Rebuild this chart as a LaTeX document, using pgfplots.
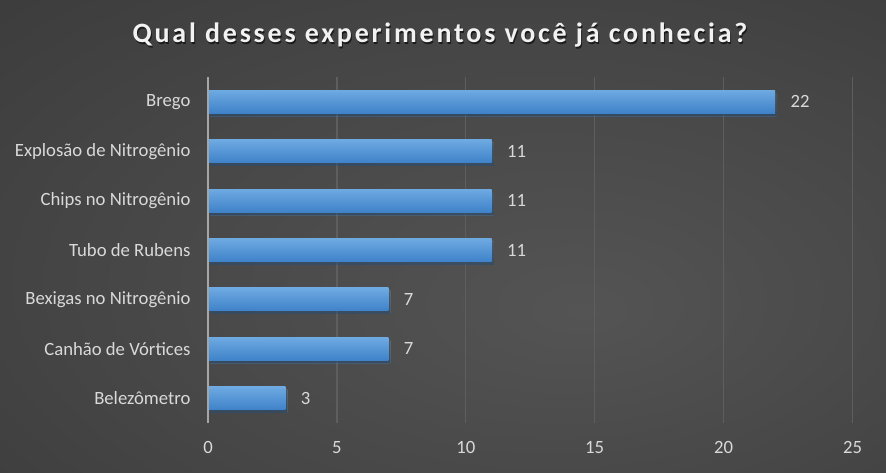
\documentclass[border=0pt]{standalone}
\usepackage{fontspec}
\setmainfont{Carlito}
\newfontfamily\titlefont[LetterSpace=10]{Carlito}
\usepackage{pgfplots}
\pgfplotsset{compat=1.18}
\definecolor{bgin}{HTML}{545454}
\definecolor{bgmid}{HTML}{464646}
\definecolor{bgout}{HTML}{2A2A2A}
\definecolor{lbl}{HTML}{D9D9D9}
\definecolor{grid}{HTML}{5E5E5E}
\definecolor{axl}{HTML}{A6A6A6}
\definecolor{bartop}{HTML}{6EAAE2}
\definecolor{barbot}{HTML}{3F82C9}
\pgfdeclareradialshading{bgshade}{\pgfpoint{8bp}{-8bp}}{color(0bp)=(bgin); color(25bp)=(bgmid); color(70bp)=(bgout)}
\pgfplotsset{onebar/.style={draw=none, bar shift=0pt, top color=bartop, bottom color=barbot,
  preaction={fill=black, fill opacity=0.3, transform canvas={shift={(2pt,-3pt)}}}}}
\begin{document}
\begin{tikzpicture}
\shade[shading=bgshade] (0,0) rectangle (886pt,472pt);
\useasboundingbox (0,0) rectangle (886pt,472pt);
\node[anchor=base, text=black, opacity=0.6, font=\titlefont\bfseries\fontsize{28}{32}\selectfont] at (441pt,427.5pt) {Qual desses experimentos você já conhecia?};
\node[anchor=base, text=white!95!black, font=\titlefont\bfseries\fontsize{28}{32}\selectfont] at (440pt,429pt) {Qual desses experimentos você já conhecia?};
\begin{axis}[
  at={(208pt,49pt)}, anchor=south west,
  scale only axis, width=644.5pt, height=346pt,
  xbar, bar width=23pt,
  xmin=0, xmax=25, ymin=-0.5, ymax=6.5,
  xtick={0,5,10,15,20,25},
  ytick={0,1,2,3,4,5,6},
  yticklabels={Belezômetro,Canhão de Vórtices,Bexigas no Nitrogênio,Tubo de Rubens,Chips no Nitrogênio,Explosão de Nitrogênio,Brego},
  /pgf/number format/assume math mode=true,
  tick label style={font=\fontsize{18.7}{22}\selectfont, text=lbl},
  yticklabel style={xshift=-14pt},
  xticklabel style={yshift=-15pt},
  major tick length=0pt,
  axis line style={draw=none},
  xmajorgrids, grid style={draw=grid, line width=1.2pt},
  nodes near coords,
  every node near coord/.append style={font=\fontsize{18.7}{22}\selectfont, text=lbl, anchor=west, xshift=12pt},
  clip=false,
]
\addplot[onebar] coordinates {(3,0)};
\addplot[onebar] coordinates {(7,1)};
\addplot[onebar] coordinates {(7,2)};
\addplot[onebar] coordinates {(11,3)};
\addplot[onebar] coordinates {(11,4)};
\addplot[onebar] coordinates {(11,5)};
\addplot[onebar] coordinates {(22,6)};
\draw[axl, line width=1.5pt] (axis cs:0,-0.5) -- (axis cs:0,6.5);
\end{axis}
\end{tikzpicture}
\end{document}
